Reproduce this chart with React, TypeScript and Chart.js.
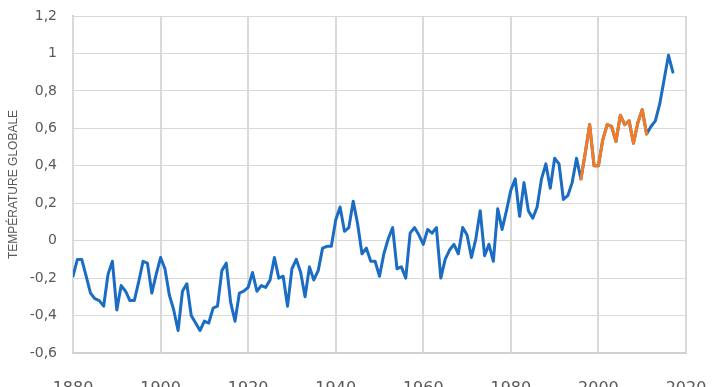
import React, { useEffect, useRef } from "react";
import { Chart, registerables } from "chart.js";

Chart.register(...registerables);

const START_YEAR = 1880;
const TEMPS: number[] = [
  -0.19, -0.1, -0.1, -0.19, -0.28, -0.31, -0.32, -0.35, -0.18, -0.11,
  -0.37, -0.24, -0.27, -0.32, -0.32, -0.22, -0.11, -0.12, -0.28, -0.18,
  -0.09, -0.15, -0.29, -0.37, -0.48, -0.27, -0.23, -0.4, -0.44, -0.48,
  -0.43, -0.44, -0.36, -0.35, -0.16, -0.12, -0.33, -0.43, -0.28, -0.27,
  -0.25, -0.17, -0.27, -0.24, -0.25, -0.21, -0.09, -0.2, -0.19, -0.35,
  -0.15, -0.1, -0.17, -0.3, -0.14, -0.21, -0.16, -0.04, -0.03, -0.03,
  0.11, 0.18, 0.05, 0.07, 0.21, 0.09, -0.07, -0.04, -0.11, -0.11,
  -0.19, -0.07, 0.01, 0.07, -0.15, -0.14, -0.2, 0.04, 0.07, 0.03,
  -0.02, 0.06, 0.04, 0.07, -0.2, -0.1, -0.05, -0.02, -0.07, 0.07,
  0.03, -0.09, 0.01, 0.16, -0.08, -0.02, -0.11, 0.17, 0.06, 0.16,
  0.27, 0.33, 0.13, 0.31, 0.16, 0.12, 0.18, 0.33, 0.41, 0.28,
  0.44, 0.41, 0.22, 0.24, 0.31, 0.44, 0.33, 0.47, 0.62, 0.4,
  0.4, 0.54, 0.62, 0.61, 0.53, 0.67, 0.62, 0.64, 0.52, 0.63,
  0.7, 0.57, 0.61, 0.64, 0.73, 0.86, 0.99, 0.9,
];
const YEARS: number[] = TEMPS.map((_, i) => START_YEAR + i);
const HIGHLIGHT_START = 1996;
const HIGHLIGHT_END = 2011;
const X_MIN = 1880;
const X_MAX = 2020;
const X_STEP = 20;
const Y_MIN = -0.6;
const Y_MAX = 1.2;
const Y_STEP = 0.2;
const Y_TITLE = "TEMPÉRATURE GLOBALE";

const BLUE = "#1b6cc3";
const ORANGE = "#f47b23";
const TEXT = "#595959";
const GRID = "#d9d9d9";

const vGridPlugin = {
  id: "vgrid",
  beforeDatasetsDraw(chart: any) {
    const { ctx, chartArea, scales } = chart;
    const xs = scales.x;
    ctx.save();
    ctx.fillStyle = GRID;
    xs.ticks.forEach((t: any) => {
      const px = Math.round(xs.getPixelForValue(t.value));
      ctx.fillRect(px - 1, chartArea.top, 2, chartArea.bottom - chartArea.top);
    });
    ctx.restore();
  },
};

export default function App() {
  const ref = useRef<HTMLCanvasElement | null>(null);

  useEffect(() => {
    if (!ref.current) return;
    const all = YEARS.map((x, i) => ({ x, y: TEMPS[i] }));
    const hl = all.filter((p) => p.x >= HIGHLIGHT_START && p.x <= HIGHLIGHT_END);
    const chart = new Chart(ref.current, {
      type: "line",
      data: {
        datasets: [
          {
            data: hl,
            borderColor: ORANGE,
            borderWidth: 3,
            pointRadius: 0,
            tension: 0,
            order: 1,
            borderJoinStyle: "round",
            borderCapStyle: "round",
          },
          {
            data: all,
            borderColor: BLUE,
            borderWidth: 3,
            pointRadius: 0,
            tension: 0,
            order: 2,
            borderJoinStyle: "round",
            borderCapStyle: "round",
          },
        ],
      },
      options: {
        animation: false,
        responsive: true,
        maintainAspectRatio: false,
        layout: { padding: { left: 0, right: 30, top: 16, bottom: 0 } },
        plugins: { legend: { display: false }, tooltip: { enabled: false } },
        scales: {
          x: {
            type: "linear",
            min: X_MIN,
            max: X_MAX,
            afterFit: (s: any) => {
              s.height = 34;
              s.paddingLeft = 0;
              s.paddingRight = 0;
            },
            grid: { display: false },
            border: { color: "#d0d0d0", width: 2 },
            ticks: {
              stepSize: X_STEP,
              color: TEXT,
              padding: 18,
              maxRotation: 0,
              autoSkip: false,
              font: { family: "'DejaVu Sans'", size: 16 },
              callback: (v: any) => String(v),
            },
          },
          y: {
            min: Y_MIN,
            max: Y_MAX,
            afterFit: (s: any) => {
              s.width = 73;
              s.paddingTop = 0;
              s.paddingBottom = 0;
            },
            grid: { color: GRID, lineWidth: 1, drawTicks: false },
            border: { color: "#d0d0d0", width: 2 },
            ticks: {
              stepSize: Y_STEP,
              color: TEXT,
              padding: 16,
              font: { family: "'DejaVu Sans'", size: 14 },
              callback: (v: any) => {
                const r = Math.round(Number(v) * 10) / 10;
                return String(r).replace(".", ",");
              },
            },
            title: {
              display: true,
              text: Y_TITLE,
              color: TEXT,
              padding: { top: 6, bottom: 0 },
              font: { family: "'Liberation Sans'", size: 12 },
            },
          },
        },
      },
      plugins: [vGridPlugin],
    });
    return () => chart.destroy();
  }, []);

  return (
    <div style={{ position: "absolute", left: 0, top: 0, width: 716, height: 387, background: "#fff" }}>
      <canvas ref={ref} />
    </div>
  );
}
